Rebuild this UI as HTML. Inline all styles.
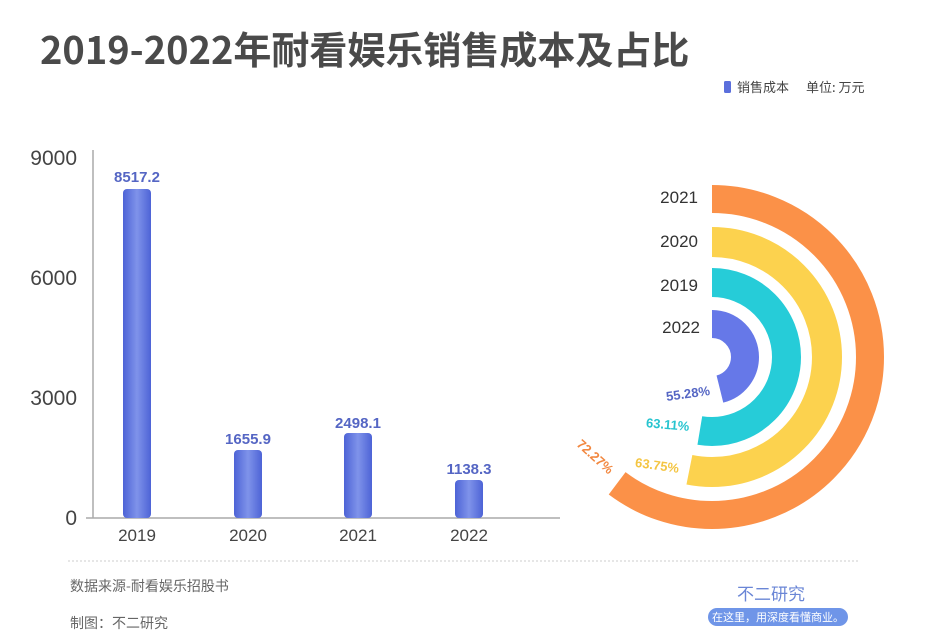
<!DOCTYPE html>
<html><head><meta charset="utf-8"><style>
body{margin:0;background:#fff;}
svg{display:block;font-family:"Liberation Sans","Noto Sans CJK SC",sans-serif;}
</style></head><body>
<svg width="940" height="644" viewBox="0 0 940 644">
<defs>
<linearGradient id="bg" x1="0" x2="1" y1="0" y2="0">
<stop offset="0" stop-color="#4d63d6"/><stop offset="0.5" stop-color="#7f93ea"/><stop offset="1" stop-color="#4d63d6"/>
</linearGradient>
</defs>
<rect width="940" height="644" fill="#fff"/>
<text x="40" y="64" font-size="38" font-weight="bold" fill="#4a4a4a" font-family="'Noto Sans CJK SC',sans-serif">2019-2022年耐看娱乐销售成本及占比</text>
<rect x="724" y="81" width="7" height="12" rx="1.5" fill="#5b6fdc"/>
<text x="737" y="92" font-size="13" fill="#444" font-family="'Noto Sans CJK SC',sans-serif">销售成本</text>
<text x="806" y="92" font-size="13" fill="#444" font-family="'Noto Sans CJK SC',sans-serif">单位: 万元</text>

<line x1="93" y1="150" x2="93" y2="518" stroke="#aaa" stroke-width="1.5"/>
<line x1="86" y1="518" x2="560" y2="518" stroke="#aaa" stroke-width="1.5"/>
<g font-size="21" fill="#444" text-anchor="end">
<text x="77" y="165">9000</text>
<text x="77" y="285">6000</text>
<text x="77" y="405">3000</text>
<text x="77" y="525">0</text>
</g>
<g font-size="17" fill="#444" text-anchor="middle">
<text x="137" y="541">2019</text>
<text x="248" y="541">2020</text>
<text x="358" y="541">2021</text>
<text x="469" y="541">2022</text>
</g>
<rect x="123" y="189" width="28" height="329" rx="4" fill="url(#bg)"/>
<rect x="234" y="450" width="28" height="68" rx="4" fill="url(#bg)"/>
<rect x="344" y="433" width="28" height="85" rx="4" fill="url(#bg)"/>
<rect x="455" y="480" width="28" height="38" rx="4" fill="url(#bg)"/>
<g font-size="15" font-weight="bold" fill="#5566c4" text-anchor="middle">
<text x="137" y="182">8517.2</text>
<text x="248" y="444">1655.9</text>
<text x="358" y="428">2498.1</text>
<text x="469" y="474">1138.3</text>
</g>

<g transform="translate(712,357) rotate(-90)" fill="none">
<circle r="158" stroke="#fb9148" stroke-width="28" stroke-dasharray="597.9 2000"/>
<circle r="115" stroke="#fcd24e" stroke-width="30" stroke-dasharray="383.9 2000"/>
<circle r="74.5" stroke="#26ccd8" stroke-width="29" stroke-dasharray="246.2 2000"/>
<circle r="33" stroke="#6678e8" stroke-width="28" stroke-dasharray="95.5 2000"/>
</g>
<g font-size="17" fill="#333" text-anchor="end">
<text x="698" y="203">2021</text>
<text x="698" y="247">2020</text>
<text x="698" y="291">2019</text>
<text x="700" y="333">2022</text>
</g>
<g font-size="13" font-weight="bold">
<text x="666" y="398" fill="#5566c4" transform="rotate(-8 688 394)">55.28%</text>
<text x="646" y="429" fill="#26c4cf" transform="rotate(5 667 425)">63.11%</text>
<text x="635" y="470" fill="#f4c542" transform="rotate(8 658 466)">63.75%</text>
<text x="571" y="458" fill="#f2873f" transform="rotate(42 590 458)">72.27%</text>
</g>

<line x1="68" y1="561" x2="860" y2="561" stroke="#ccc" stroke-width="1" stroke-dasharray="2 2"/>
<text x="70" y="591" font-size="14" fill="#666" font-family="'Noto Sans CJK SC',sans-serif">数据来源-耐看娱乐招股书</text>
<text x="70" y="628" font-size="14" fill="#666" font-family="'Noto Sans CJK SC',sans-serif">制图：不二研究</text>
<text x="771" y="600" font-size="17" fill="#6a86d6" text-anchor="middle" font-family="'Noto Sans CJK SC',sans-serif">不二研究</text>
<rect x="708" y="608" width="140" height="18" rx="9" fill="#6f95e8"/>
<text x="778" y="621" font-size="11" fill="#fff" text-anchor="middle" font-family="'Noto Sans CJK SC',sans-serif">在这里，用深度看懂商业。</text>
</svg>
</body></html>
